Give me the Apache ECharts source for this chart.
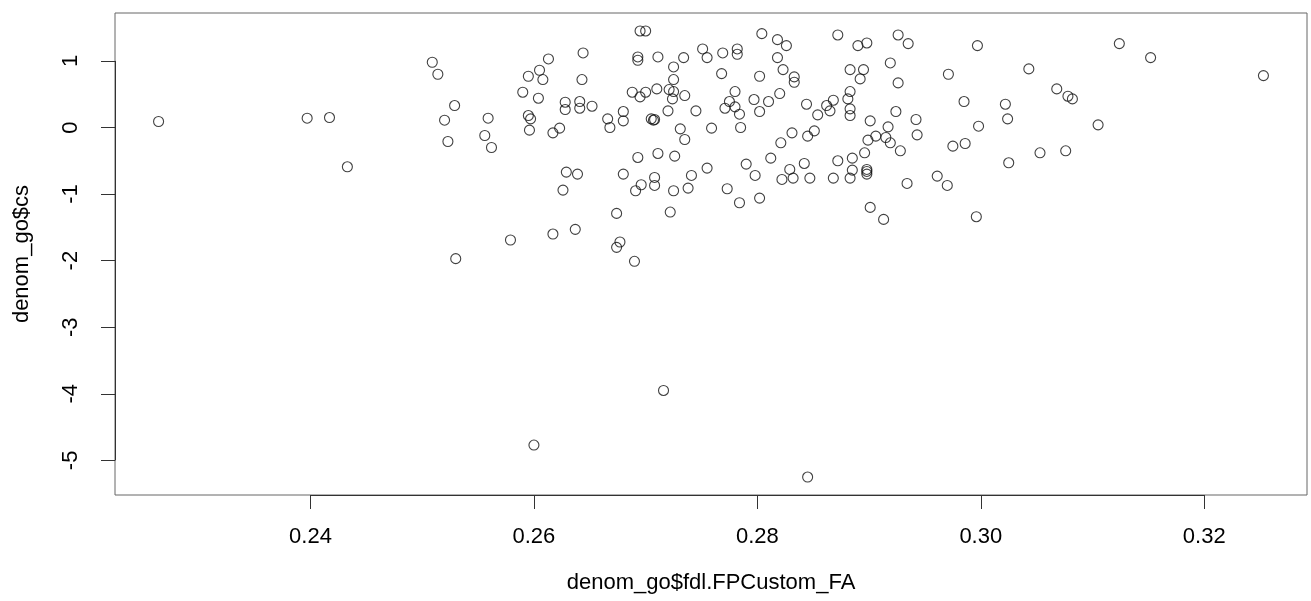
<!DOCTYPE html>
<html>
<head>
<meta charset="utf-8">
<script src="https://cdn.jsdelivr.net/npm/echarts@6/dist/echarts.min.js"></script>
<style>
html,body{margin:0;padding:0;background:#fff;}
#chart{width:1311px;height:601px;}
</style>
</head>
<body>
<div id="chart"></div>
<script>
// x: denom_go$fdl.FPCustom_FA, y: denom_go$cs
var xVals = [
  0.2264,0.2397,0.2417,0.2433,0.2509,0.2514,0.2529,0.2520,0.2523,0.2530,
  0.2613,0.2605,0.2595,0.2608,0.2590,0.2604,0.2644,0.2643,0.2628,0.2628,
  0.2641,0.2641,0.2652,0.2559,0.2556,0.2562,0.2595,0.2597,0.2596,0.2617,
  0.2623,0.2666,0.2668,0.2680,0.2680,0.2688,
  0.2629,0.2639,0.2626,0.2680,0.2674,0.2637,0.2617,0.2579,0.2677,0.2674,0.2690,
  0.2695,0.2700,0.2693,0.2693,0.2711,0.2734,0.2725,0.2751,0.2755,0.2769,
  0.2782,0.2782,0.2804,0.2818,0.2826,0.2818,0.2823,0.2833,0.2833,0.2768,
  0.2802,0.2725,0.2695,0.2700,0.2710,0.2721,0.2725,0.2724,0.2735,0.2780,
  0.2775,0.2771,0.2780,0.2784,0.2797,0.2810,0.2820,0.2802,0.2720,0.2745,
  0.2705,0.2707,0.2708,0.2731,0.2735,0.2759,0.2785,0.2831,0.2821,0.2711,
  0.2726,0.2693,
  0.2696,0.2691,0.2708,0.2708,0.2725,0.2741,0.2738,0.2755,0.2722,0.2773,
  0.2784,0.2790,0.2798,0.2802,0.2812,0.2829,0.2822,0.2832,
  0.2872,0.2890,0.2898,0.2926,0.2935,0.2919,0.2971,0.2926,0.2883,0.2895,
  0.2892,0.2883,0.2881,0.2868,0.2862,0.2865,0.2844,0.2854,0.2883,0.2883,
  0.2924,0.2901,0.2917,0.2942,0.2943,0.2851,0.2845,0.2906,0.2899,0.2915,
  0.2919,0.2928,0.2975,
  0.2842,0.2847,0.2872,0.2885,0.2896,0.2868,0.2883,0.2885,0.2898,0.2898,
  0.2898,0.2934,0.2961,0.2970,0.2901,0.2913,
  0.2997,0.3124,0.3152,0.3253,0.3043,0.3068,0.3078,0.3082,0.2985,0.3022,
  0.3024,0.2998,0.3105,0.2986,0.3025,0.3053,0.3076,0.2996,
  0.2716,0.2600,0.2845
];
var yVals = [
  0.09,0.14,0.15,-0.59,0.98,0.80,0.33,0.11,-0.21,-1.97,
  1.03,0.86,0.77,0.72,0.53,0.44,1.12,0.72,0.38,0.27,
  0.39,0.29,0.32,0.14,-0.12,-0.30,0.18,0.13,-0.04,-0.08,
  -0.01,0.13,0.00,0.24,0.10,0.53,
  -0.67,-0.70,-0.94,-0.70,-1.29,-1.53,-1.60,-1.69,-1.72,-1.80,-2.01,
  1.45,1.45,1.06,1.01,1.06,1.05,0.91,1.18,1.05,1.12,
  1.18,1.10,1.41,1.32,1.23,1.05,0.87,0.76,0.68,0.81,
  0.77,0.72,0.46,0.53,0.58,0.57,0.54,0.43,0.48,0.54,
  0.39,0.29,0.31,0.20,0.42,0.39,0.51,0.24,0.25,0.25,
  0.13,0.11,0.12,-0.02,-0.18,-0.01,0.00,-0.08,-0.23,-0.39,
  -0.43,-0.45,
  -0.86,-0.95,-0.75,-0.87,-0.95,-0.72,-0.91,-0.61,-1.27,-0.92,
  -1.13,-0.55,-0.72,-1.06,-0.46,-0.63,-0.78,-0.76,
  1.39,1.23,1.27,1.39,1.26,0.97,0.80,0.67,0.87,0.87,
  0.73,0.54,0.43,0.41,0.33,0.25,0.35,0.19,0.28,0.18,
  0.24,0.10,0.01,0.12,-0.11,-0.05,-0.13,-0.13,-0.19,-0.15,
  -0.23,-0.35,-0.28,
  -0.54,-0.76,-0.50,-0.46,-0.38,-0.76,-0.76,-0.64,-0.63,-0.66,
  -0.70,-0.84,-0.73,-0.87,-1.20,-1.38,
  1.23,1.26,1.05,0.78,0.88,0.58,0.47,0.43,0.39,0.35,
  0.13,0.02,0.04,-0.24,-0.53,-0.38,-0.35,-1.34,
  -3.95,-4.77,-5.25
];
var xTicks = [0.24, 0.26, 0.28, 0.30, 0.32];
var yTicks = [-5, -4, -3, -2, -1, 0, 1];
var xTitle = 'denom_go$fdl.FPCustom_FA';
var yTitle = 'denom_go$cs';
var xRange = [0.2225, 0.3292];
var yRange = [-5.52, 1.72];

var points = xVals.map(function (x, i) { return [x, yVals[i]]; });

var chart = echarts.init(document.getElementById('chart'), null, {renderer: 'canvas'});
var font = 'Liberation Sans, Arial, Helvetica, sans-serif';
chart.setOption({
  animation: false,
  backgroundColor: '#ffffff',
  grid: {
    left: 115, top: 13, right: 4, bottom: 106,
    show: true, borderColor: '#666', borderWidth: 1, backgroundColor: 'transparent'
  },
  xAxis: {
    type: 'value', min: xRange[0], max: xRange[1],
    splitLine: {show: false},
    axisLine: {show: false, onZero: false},
    axisTick: {show: true, inside: false, length: 14, customValues: xTicks, lineStyle: {color: '#333', width: 1}},
    axisLabel: {show: true, customValues: xTicks, margin: 31, fontSize: 22, fontFamily: font, color: '#000',
      formatter: function (v) { return v.toFixed(2); }},
    name: xTitle, nameLocation: 'middle', nameGap: 77,
    nameTextStyle: {fontSize: 22, fontFamily: font, color: '#000'}
  },
  yAxis: {
    type: 'value', min: yRange[0], max: yRange[1],
    splitLine: {show: false},
    axisLine: {show: false, onZero: false},
    axisTick: {show: true, inside: false, length: 14, customValues: yTicks, lineStyle: {color: '#333', width: 1}},
    axisLabel: {show: true, customValues: yTicks, rotate: 90, margin: 33, fontSize: 22, fontFamily: font, color: '#000',
      formatter: function (v) { return String(Math.round(v)); }},
    name: yTitle, nameLocation: 'middle', nameGap: 82,
    nameTextStyle: {fontSize: 22, fontFamily: font, color: '#000'}
  },
  series: [{
    type: 'scatter',
    data: points,
    symbol: 'circle',
    symbolSize: 10,
    clip: false,
    itemStyle: {color: 'rgba(0,0,0,0)', borderColor: '#111', borderWidth: 1.1},
    emphasis: {disabled: true},
    markLine: {
      silent: true,
      symbol: 'none',
      label: {show: false},
      animation: false,
      lineStyle: {color: '#333', width: 1, type: 'solid'},
      data: [
        [{coord: [xTicks[0], yRange[0]]}, {coord: [xTicks[xTicks.length - 1], yRange[0]]}],
        [{coord: [xRange[0], yTicks[0]]}, {coord: [xRange[0], yTicks[yTicks.length - 1]]}]
      ]
    }
  }]
});
</script>
</body>
</html>
